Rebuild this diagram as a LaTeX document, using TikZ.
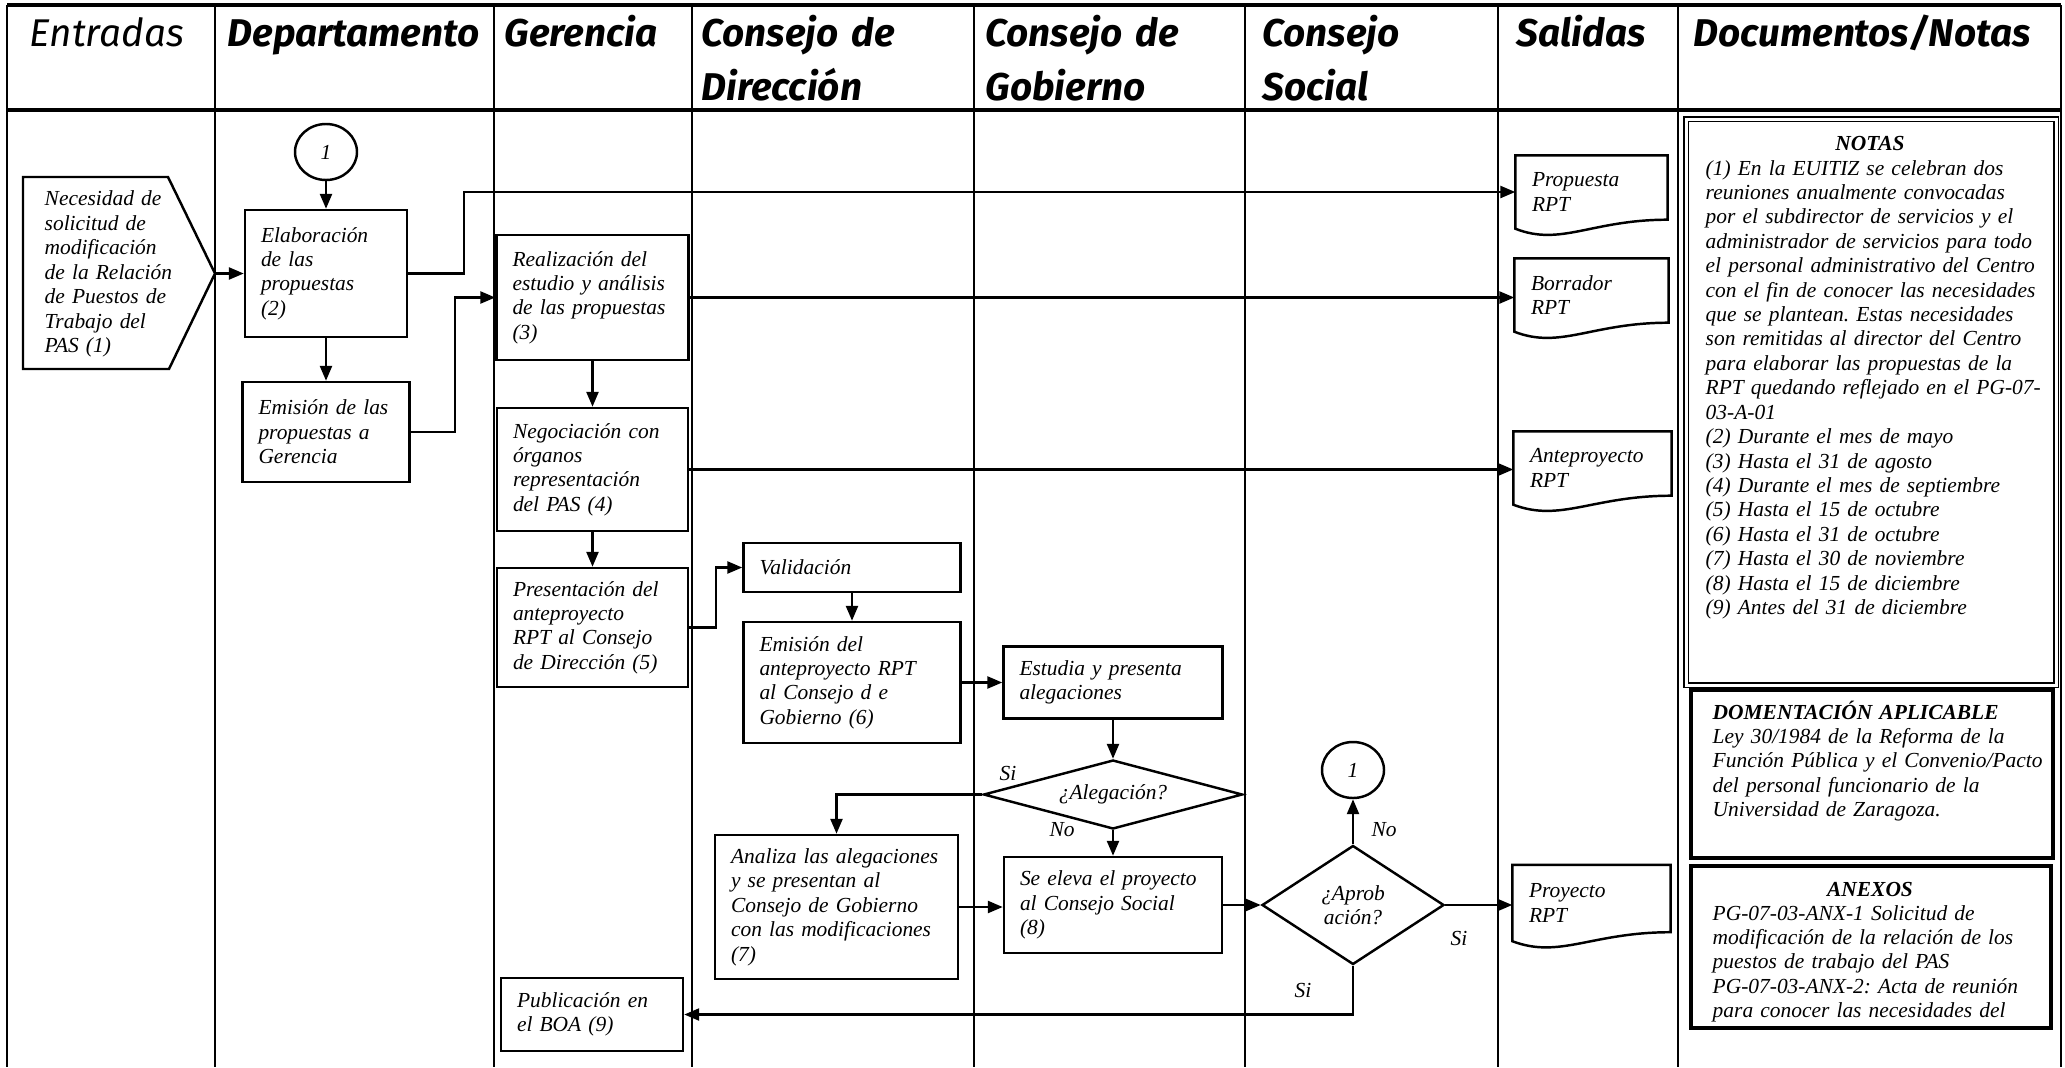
\documentclass[tikz,border=0pt]{standalone}
\usepackage{fontspec}
\setmainfont{Liberation Serif}[ItalicFont={Liberation Serif Italic}, BoldFont={Liberation Serif Bold}, BoldItalicFont={Liberation Serif Bold Italic}]
\newfontfamily\headfont{Fira Sans}
\usetikzlibrary{shapes.geometric,arrows.meta,calc}
\frenchspacing

\newcommand\boxfont{\fontsize{6.1}{6.95}\selectfont\itshape}
\newcommand\headsize{\headfont\fontsize{11}{15.5}\selectfont\itshape}

\tikzset{
	lane/.style={line width=0.8pt},
	frame/.style={line width=1.2pt},
	arr/.style={line width=0.7pt, -{Triangle[length=1.5mm,width=1.2mm]}},
	head/.style={anchor=base west, inner sep=0pt, text width=40mm, align=left, font=\headsize\bfseries},
	proc/.style 2 args={draw, line width=0.7pt, minimum width=#1mm, minimum height=#2mm, text width=#1mm-3.2mm, align=left, inner xsep=1.6mm, inner ysep=0pt, font=\boxfont},
	doc/.style 2 args={minimum width=#1mm, minimum height=#2mm, text width=#1mm-3.2mm, align=left, inner xsep=1.6mm, inner ysep=0pt, font=\boxfont},
	deci/.style 2 args={draw, diamond, line width=0.7pt, minimum width=#1mm, minimum height=#2mm, inner sep=0pt, align=center, font=\boxfont},
	conn/.style={draw, ellipse, line width=0.7pt, minimum width=6.2mm, minimum height=5.6mm, inner sep=0pt, font=\boxfont},
	lbl/.style={inner sep=0pt, font=\boxfont},
	note/.style={anchor=base west, inner sep=0pt, text width=40mm, align=left, font=\boxfont},
}

\begin{document}
\begin{tikzpicture}[x=0.1mm, y=-0.1mm]
	\newcommand\docwave[1]{\draw[line width=0.7pt] (#1.north west) -- (#1.north east) -- ($(#1.south east)+(0,-9)$)
		.. controls ($(#1.south)+(0,-9)$) and ($(#1.south west)!0.3!(#1.south east)+(0,18)$) .. (#1.south west) -- cycle;}
	
	\useasboundingbox (0,0) rectangle (2065,1067);
	
	\draw[frame] (7,5) -- (2061,5);
	\draw[frame] (7,110) -- (2061,110);
	\foreach \x in {7,215,494,692,974,1245,1498,1678,2061}
		\draw[lane] (\x,5) -- (\x,1067);
	
	\node[head, font=\headsize] (hEnt) at (29,46) {Entradas};
	\node[head] (hDep) at (227,46) {Departamento};
	\node[head] (hGer) at (504,46) {Gerencia};
	\node[head] (hDir) at (701,46) {Consejo de\\Dirección};
	\node[head] (hGob) at (985,46) {Consejo de\\Gobierno};
	\node[head] (hSoc) at (1262,46) {Consejo\\Social};
	\node[head] (hSal) at (1516,46) {Salidas};
	\node[head] (hDoc) at (1693,46) {Documentos/Notas};
	
	\draw[line width=0.7pt] (23,177) -- (168,177) -- (215,273.5) -- (169,369) -- (23,369) -- cycle;
	\coordinate (tip) at (215,273.5);
	\node[note, anchor=west, text width=15mm] (entrada) at (44,274) {Necesidad de\\solicitud de\\modificación\\de la Relación\\de Puestos de\\Trabajo del\\PAS (1)};
	
	\node[conn] (con1) at (326,152) {1};
	\node[proc={16.2}{12.7}] (elab) at (326,273.5) {Elaboración\\de las\\propuestas\\(2)};
	\node[proc={16.7}{10.0}] (emis) at (326,432) {Emisión de las\\propuestas a\\Gerencia};
	\node[proc={19.2}{12.5}] (realiz) at (592.5,297.5) {Realización del\\estudio y análisis\\de las propuestas\\(3)};
	\node[proc={19.1}{12.3}] (negoc) at (592.5,469.5) {Negociación con\\órganos\\representación\\del PAS (4)};
	\node[proc={19.1}{11.9}] (present) at (592.5,627.5) {Presentación del\\anteproyecto\\RPT al Consejo\\de Dirección (5)};
	\node[proc={21.7}{4.9}] (valid) at (852,567.5) {Validación};
	\node[proc={21.7}{12.1}] (emisdel) at (852,682.5) {Emisión del\\anteproyecto RPT\\al Consejo d e\\Gobierno (6)};
	\node[proc={21.9}{7.2}] (estudia) at (1113,682.5) {Estudia y presenta\\alegaciones};
	\node[deci={25.9}{6.9}, aspect=3.75] (alega) at (1113,794.5) {¿Alegación?};
	\node[proc={24.3}{14.4}] (analiza) at (836.5,907) {Analiza las alegaciones\\y se presentan al\\Consejo de Gobierno\\con las modificaciones\\(7)};
	\node[proc={21.8}{9.6}] (eleva) at (1113,905) {Se eleva el proyecto\\al Consejo Social\\(8)};
	\node[deci={18.2}{11.9}, aspect=1.5] (aprob) at (1353,905) {¿Aprob\\ación?};
	\node[conn] (con2) at (1353,770) {1};
	\node[proc={18.2}{7.3}] (public) at (592,1014.5) {Publicación en\\el BOA (9)};
	
	\node[doc={15.1}{7.2}] (prop) at (1591.5,192) {Propuesta\\RPT};
	\node[doc={15.3}{7.2}] (borr) at (1591.5,295) {Borrador\\RPT};
	\node[doc={15.7}{7.2}] (antep) at (1592.5,468) {Anteproyecto\\RPT};
	\node[doc={15.7}{7.5}] (proy) at (1591.5,903) {Proyecto\\RPT};
	\docwave{prop}
	\docwave{borr}
	\docwave{antep}
	\docwave{proy}
	
	\draw[arr] (tip) -- (elab.west);
	\draw[arr] (con1) -- (elab);
	\draw[arr] (elab) -- (emis);
	\draw[arr] (elab.east) -- ++(56,0) |- (prop.west);
	\draw[arr] (emis.east) -- ++(44,0) |- (realiz.west);
	\draw[arr] (realiz.east) -- (realiz.east -| borr.west);
	\draw[arr] (realiz) -- (negoc);
	\draw[arr] (negoc.east) -- (negoc.east -| antep.west);
	\draw[arr] (negoc) -- (present);
	\draw[arr] (present.east) -- ++(27,0) |- (valid.west);
	\draw[arr] (valid) -- (emisdel);
	\draw[arr] (emisdel) -- (estudia);
	\draw[arr] (estudia) -- (alega);
	\draw[arr] (alega) -- (eleva);
	\draw[arr] (alega.west) -| (analiza.north);
	\draw[arr] (analiza.east) -- (analiza.east -| eleva.west);
	\draw[arr] (eleva.east) -- (eleva.east -| aprob.west);
	\draw[arr] (aprob.east) -- (aprob.east -| proy.west);
	\draw[arr] (aprob) -- (con2);
	\draw[arr] (aprob.south) |- (public.east);
	
	\node[lbl] (siA) at (1008,773) {Si};
	\node[lbl] (noA) at (1062,830) {No};
	\node[lbl] (noB) at (1384,830) {No};
	\node[lbl] (siB) at (1459,938) {Si};
	\node[lbl] (siC) at (1303,990) {Si};
	
	\draw[line width=0.45pt, double, double distance=0.3mm] (1686,119) rectangle (2056,685);
	\node[lbl, anchor=base] (notasT) at (1870,150) {\bfseries NOTAS};
	\node[note] (notas) at (1705,175) {(1) En la EUITIZ se celebran dos\\reuniones anualmente convocadas\\por el subdirector de servicios y el\\administrador de servicios para todo\\el personal administrativo del Centro\\con el fin de conocer las necesidades\\que se plantean. Estas necesidades\\son remitidas al director del Centro\\para elaborar las propuestas de la\\RPT quedando reflejado en el PG-07-\\03-A-01\\(2) Durante el mes de mayo\\(3) Hasta el 31 de agosto\\(4) Durante el mes de septiembre\\(5) Hasta el 15 de octubre\\(6) Hasta el 31 de octubre\\(7) Hasta el 30 de noviembre\\(8) Hasta el 15 de diciembre\\(9) Antes del 31 de diciembre};
	
	\draw[line width=1pt] (1691,690) rectangle (2053,858);
	\node[note] (docap) at (1712,719) {{\bfseries DOMENTACIÓN APLICABLE}\\Ley 30/1984 de la Reforma de la\\Función Pública y el Convenio/Pacto\\del personal funcionario de la\\Universidad de Zaragoza.};
	
	\draw[line width=1pt] (1691,866) rectangle (2051,1028);
	\node[lbl, anchor=base] (anexT) at (1870,896) {\bfseries ANEXOS};
	\begin{scope}
		\clip (1691,866) rectangle (2051,1021);
		\node[note] (anex) at (1712,920) {PG-07-03-ANX-1 Solicitud de\\modificación de la relación de los\\puestos de trabajo del PAS\\PG-07-03-ANX-2: Acta de reunión\\para conocer las necesidades del};
	\end{scope}
	
\end{tikzpicture}
\end{document}
